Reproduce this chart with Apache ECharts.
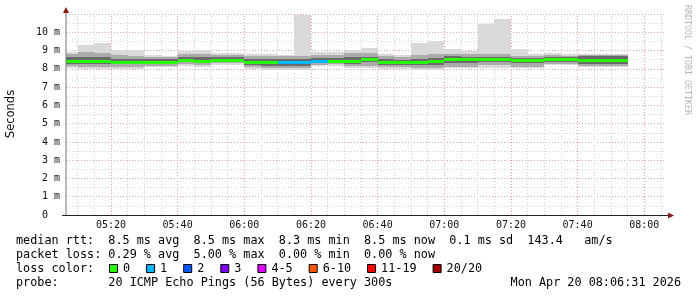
<!DOCTYPE html>
<html><head><meta charset="utf-8">
<script src="https://cdn.jsdelivr.net/npm/echarts@6/dist/echarts.min.js"></script>
<style>html,body{margin:0;padding:0;background:#fff}#c{width:697px;height:297px}</style>
</head><body><div id="c"></div>
<script>
// ---- data (bins are 5-minute RRD steps, labelled by their end time) ----
const binEnd = ["05:10","05:15","05:20","05:25","05:30","05:35","05:40","05:45","05:50","05:55",
  "06:00","06:05","06:10","06:15","06:20","06:25","06:30","06:35","06:40","06:45",
  "06:50","06:55","07:00","07:05","07:10","07:15","07:20","07:25","07:30","07:35",
  "07:40","07:45","07:50","07:55"];
// smoke envelope (ms)
const smokeMax = [8.92,9.29,9.42,9.05,9.02,8.74,8.69,9.00,9.05,8.89,8.89,8.80,8.80,8.78,10.93,8.92,8.92,9.05,9.12,8.80,
  8.74,9.42,9.52,9.07,8.98,10.47,10.71,9.07,8.83,8.87,8.83,8.80,8.80,8.80];
const smokeHi  = [8.80,8.90,8.85,8.75,8.72,8.65,8.62,8.80,8.80,8.75,8.75,8.70,8.70,8.68,8.72,8.75,8.75,8.85,8.85,8.68,
  8.65,8.78,8.80,8.82,8.80,8.80,8.82,8.72,8.70,8.75,8.72,8.76,8.76,8.76];
const coreHi   = [8.62,8.65,8.62,8.55,8.55,8.52,8.52,8.65,8.62,8.62,8.62,8.55,8.55,8.55,8.55,8.60,8.60,8.62,8.66,8.52,
  8.50,8.56,8.58,8.68,8.66,8.66,8.66,8.58,8.58,8.62,8.62,8.68,8.68,8.68];
const median   = [8.45,8.45,8.45,8.40,8.40,8.40,8.40,8.50,8.43,8.50,8.50,8.36,8.36,8.36,8.36,8.44,8.45,8.43,8.52,8.36,
  8.35,8.39,8.42,8.52,8.52,8.52,8.52,8.47,8.47,8.51,8.51,8.46,8.46,8.46];
const coreLo   = [8.28,8.25,8.25,8.25,8.25,8.28,8.28,8.38,8.30,8.40,8.40,8.20,8.18,8.18,8.18,8.32,8.35,8.28,8.35,8.20,
  8.20,8.20,8.22,8.30,8.30,8.38,8.38,8.30,8.30,8.38,8.38,8.28,8.28,8.28];
const smokeLo  = [8.15,8.12,8.12,8.12,8.12,8.18,8.18,8.28,8.20,8.30,8.30,8.08,8.05,8.05,8.05,8.22,8.25,8.15,8.18,8.08,
  8.08,8.05,8.05,8.12,8.12,8.20,8.20,8.12,8.12,8.25,8.25,8.18,8.18,8.18];
const smokeMin = [8.05,8.00,8.00,8.00,8.00,8.10,8.10,8.18,8.10,8.20,8.20,7.98,7.92,7.92,7.92,8.18,8.18,8.02,8.02,8.00,
  8.00,7.92,7.92,8.02,8.02,8.05,8.05,8.02,8.02,8.20,8.20,8.12,8.12,8.12];
const lossCount = [0,0,0,0,0,0,0,0,0,0,0,0,0,1,1,1,0,0,0,0,0,0,0,0,0,0,0,0,0,0,0,0,0,0];

const xTickLabels = ["05:20","05:40","06:00","06:20","06:40","07:00","07:20","07:40","08:00"];
const yTickValues = [0,1,2,3,4,5,6,7,8,9,10];
const lossLegendLabels = ["0","1","2","3","4-5","6-10","11-19","20/20"];
const lossLegendColors = ["#26ff00","#00b8ff","#0059ff","#7e00ff","#dd00ff","#ff5500","#ff0000","#a00000"];
const statLines = [
  "median rtt:  8.5 ms avg  8.5 ms max  8.3 ms min  8.5 ms now  0.1 ms sd  143.4   am/s",
  "packet loss: 0.29 % avg  5.00 % max  0.00 % min  0.00 % now",
  "loss color:",
  "probe:       20 ICMP Echo Pings (56 Bytes) every 300s"
];
const stampText = "Mon Apr 20 08:06:31 2026";
const axisStart = "05:06:31", axisEnd = "08:06:31";

// ---- helpers ----
function toMin(s){const p=s.split(':').map(Number);return p[0]*60+p[1]+(p[2]||0)/60;}
function fmt(v){const h=Math.floor(v/60),m=Math.round(v-h*60);return String(h).padStart(2,'0')+':'+String(m).padStart(2,'0');}
function lossIdx(n){if(n<=3)return n;if(n<=5)return 4;if(n<=10)return 5;if(n<=19)return 6;return 7;}

const MONO = '"DejaVu Sans Mono", monospace';
const minorGrid = [], majorGrid = [];
for (let m = Math.ceil(toMin(axisStart)/5)*5; m < toMin(axisEnd); m += 5) {
  (m % 20 === 0 ? majorGrid : minorGrid).push(m);
}

const chart = echarts.init(document.getElementById('c'), null, {renderer:'canvas'});

const graphics = [];
// axis arrows
graphics.push({type:'line', shape:{x1:66,y1:215,x2:66,y2:10}, style:{stroke:'#777',lineWidth:1}, z:50});
graphics.push({type:'polygon', shape:{points:[[63,13],[66,7],[69,13]]}, style:{fill:'#8b1a1a'}, z:51});
graphics.push({type:'line', shape:{x1:62,y1:215.5,x2:670,y2:215.5}, style:{stroke:'#222',lineWidth:1}, z:50});
graphics.push({type:'polygon', shape:{points:[[668,212.5],[674,215.5],[668,218.5]]}, style:{fill:'#8b1a1a'}, z:51});
// titles
graphics.push({type:'text', x:11, y:114, rotation:Math.PI/2,
  style:{text:'Seconds', font:'11.5px "DejaVu Sans", sans-serif', fill:'#111', align:'center', verticalAlign:'middle'}});
graphics.push({type:'text', x:687, y:5, rotation:-Math.PI/2,
  style:{text:'RRDTOOL / TOBI OETIKER', font:'8.3px '+MONO, fill:'#b4b4b4', align:'left', verticalAlign:'middle'}});
// stats
statLines.forEach((t,i)=>{
  graphics.push({type:'text', x:16, y:241+i*14, style:{text:t, font:'11.8px '+MONO, fill:'#000', verticalAlign:'middle'}});
});
graphics.push({type:'text', x:681, y:283, style:{text:stampText, font:'11.8px '+MONO, fill:'#000', align:'right', verticalAlign:'middle'}});
// loss legend
let lx = 109;
lossLegendLabels.forEach((lab,i)=>{
  graphics.push({type:'rect', shape:{x:lx+0.5, y:264.5, width:8, height:8}, style:{fill:lossLegendColors[i], stroke:'#000', lineWidth:1}});
  graphics.push({type:'text', x:lx+14, y:269, style:{text:lab, font:'11.8px '+MONO, fill:'#000', verticalAlign:'middle'}});
  lx = lx + 14 + lab.length*7.1 + 16;
});

const smokeOuter = '#d9d9d9', smokeMid = '#ababab', smokeCore = '#6a6a6a';

chart.setOption({
  animation:false,
  backgroundColor:'#ffffff',
  grid:{left:66, right:31, top:14, bottom:82, containLabel:false},
  xAxis:{type:'value', min:toMin(axisStart), max:toMin(axisEnd),
    axisLine:{show:false}, axisTick:{show:false}, splitLine:{show:false},
    axisLabel:{customValues:xTickLabels.map(toMin), formatter:v=>fmt(v), fontFamily:MONO, fontSize:10, color:'#111', margin:5}},
  yAxis:{type:'value', min:0, max:11, interval:1,
    axisLine:{show:false}, axisTick:{show:false},
    axisLabel:{customValues:yTickValues, formatter:v=> v===0 ? '0  ' : v+' m', fontFamily:MONO, fontSize:10, color:'#111', margin:6},
    splitLine:{show:true, lineStyle:{color:'#e6a3a3', type:[1,2], width:1}},
    minorTick:{show:false, splitNumber:2},
    minorSplitLine:{show:true, lineStyle:{color:'#d0d0d0', type:[1,2], width:1}}},
  series:[
    {type:'line', data:[], z:1, silent:true,
     markLine:{silent:true, symbol:'none', label:{show:false}, animation:false,
       lineStyle:{color:'#d0d0d0', type:[1,2], width:1}, data:minorGrid.map(m=>({xAxis:m}))}},
    {type:'line', data:[], z:1, silent:true,
     markLine:{silent:true, symbol:'none', label:{show:false}, animation:false,
       lineStyle:{color:'#e6a3a3', type:[1,2], width:1}, data:majorGrid.map(m=>({xAxis:m}))}},
    {type:'custom', z:5, clip:true, silent:true,
     data: binEnd.map((t,i)=>[toMin(t)-5, toMin(t), smokeMin[i], smokeLo[i], coreLo[i], median[i], coreHi[i], smokeHi[i], smokeMax[i], lossCount[i]]),
     encode:{x:[0,1], y:[2,8]},
     renderItem:function(params, api){
       const x0 = Math.round(api.coord([api.value(0),0])[0]);
       const x1 = Math.round(api.coord([api.value(1),0])[0]);
       const Y = v => api.coord([api.value(0), v])[1];
       const band = (a,b,c) => {const ya=Math.round(Y(a)), yb=Math.round(Y(b));
         return {type:'rect', shape:{x:x0, y:yb, width:x1-x0, height:Math.max(1,ya-yb)}, style:{fill:c}};};
       const ym = Math.round(Y(api.value(5)));
       return {type:'group', children:[
         band(api.value(2), api.value(8), smokeOuter),
         band(api.value(3), api.value(7), smokeMid),
         band(api.value(4), api.value(6), smokeCore),
         {type:'rect', shape:{x:x0, y:ym-1, width:x1-x0, height:3}, style:{fill:lossLegendColors[lossIdx(api.value(9))]}}
       ]};
     }}
  ],
  graphic:graphics
});
</script></body></html>
